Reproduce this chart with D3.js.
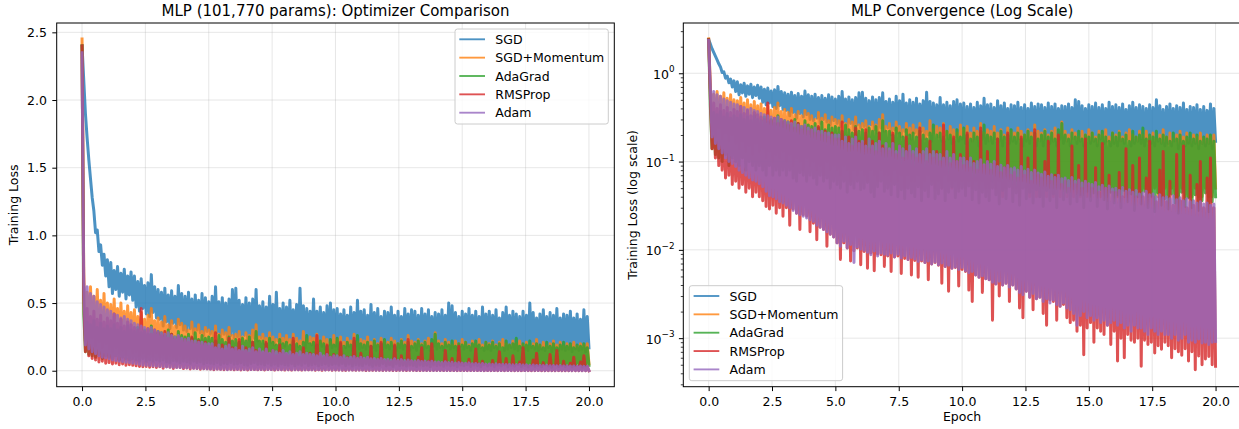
<!DOCTYPE html>
<html>
<head>
<meta charset="utf-8">
<script src="https://cdn.jsdelivr.net/npm/d3@7"></script>
<style>
    body { margin: 0; background: #fff; }
    text { font-family: "DejaVu Sans", sans-serif; fill: #000; }
</style>
</head>
<body>
<div id="chart-area"></div>
<script>
// optimizers, in drawing order
var optimizers = ["SGD", "SGD+Momentum", "AdaGrad", "RMSProp", "Adam"];
var colours = ["#1f77b4", "#ff7f0e", "#2ca02c", "#d62728", "#9467bd"];

// tick labels
var epochTicks = [0, 2.5, 5, 7.5, 10, 12.5, 15, 17.5, 20];
var linearTicks = [0, 0.5, 1, 1.5, 2, 2.5];
var logTicks = [1e-3, 1e-2, 1e-1, 1];
var logTickExp = ["\u22123", "\u22122", "\u22121", "0"];
var nEpochs = 20;

// training loss, 15 readings per epoch
var lossSGD = [2.40,
    2.15, 1.90, 1.72, 1.56, 1.42, 1.28, 1.18, 1.02, 1.04, 0.88, 0.93, 0.78, 0.86, 0.70, 0.82,
    0.62, 0.80, 0.57, 0.74, 0.60, 0.77, 0.55, 0.72, 0.58, 0.75, 0.53, 0.70, 0.56, 0.73, 0.52,
    0.70, 0.47, 0.66, 0.44, 0.68, 0.46, 0.63, 0.42, 0.65, 0.40, 0.71, 0.43, 0.62, 0.39, 0.60,
    0.38, 0.58, 0.33, 0.61, 0.36, 0.56, 0.31, 0.59, 0.35, 0.55, 0.32, 0.63, 0.34, 0.57, 0.30,
    0.55, 0.29, 0.58, 0.31, 0.53, 0.27, 0.56, 0.30, 0.52, 0.28, 0.57, 0.26, 0.54, 0.29, 0.51,
    0.27, 0.55, 0.25, 0.62, 0.28, 0.51, 0.24, 0.54, 0.27, 0.50, 0.23, 0.53, 0.26, 0.60, 0.24,
    0.61, 0.25, 0.52, 0.22, 0.49, 0.26, 0.54, 0.23, 0.50, 0.21, 0.53, 0.24, 0.60, 0.22, 0.48,
    0.24, 0.51, 0.20, 0.47, 0.23, 0.55, 0.21, 0.49, 0.19, 0.58, 0.22, 0.46, 0.20, 0.50, 0.18,
    0.47, 0.21, 0.52, 0.19, 0.45, 0.22, 0.49, 0.18, 0.61, 0.20, 0.48, 0.17, 0.46, 0.21, 0.44,
    0.19, 0.53, 0.17, 0.44, 0.20, 0.47, 0.18, 0.43, 0.16, 0.48, 0.19, 0.50, 0.17, 0.45, 0.18,
    0.46, 0.16, 0.42, 0.19, 0.45, 0.17, 0.41, 0.18, 0.47, 0.15, 0.43, 0.18, 0.52, 0.16, 0.44,
    0.17, 0.45, 0.16, 0.41, 0.18, 0.49, 0.17, 0.43, 0.15, 0.46, 0.18, 0.40, 0.16, 0.44, 0.17,
    0.43, 0.16, 0.47, 0.18, 0.41, 0.15, 0.44, 0.17, 0.40, 0.16, 0.46, 0.18, 0.42, 0.15, 0.45,
    0.17, 0.44, 0.15, 0.41, 0.18, 0.46, 0.16, 0.42, 0.17, 0.45, 0.15, 0.40, 0.18, 0.43, 0.16,
    0.42, 0.17, 0.45, 0.15, 0.41, 0.18, 0.50, 0.16, 0.48, 0.17, 0.43, 0.15, 0.40, 0.18, 0.44,
    0.16, 0.42, 0.17, 0.46, 0.15, 0.41, 0.18, 0.44, 0.16, 0.40, 0.17, 0.47, 0.15, 0.42, 0.16,
    0.44, 0.15, 0.41, 0.17, 0.45, 0.16, 0.39, 0.18, 0.43, 0.15, 0.47, 0.16, 0.41, 0.17, 0.44,
    0.16, 0.42, 0.15, 0.40, 0.17, 0.44, 0.16, 0.41, 0.15, 0.50, 0.17, 0.43, 0.16, 0.39, 0.15,
    0.42, 0.16, 0.45, 0.15, 0.40, 0.17, 0.43, 0.14, 0.41, 0.16, 0.46, 0.15, 0.39, 0.16, 0.42,
    0.15, 0.41, 0.16, 0.44, 0.14, 0.39, 0.16, 0.42, 0.15, 0.38, 0.16, 0.45, 0.14, 0.40, 0.17];

var lossMomentum = [2.45,
    0.72, 0.22, 0.58, 0.19, 0.62, 0.24, 0.55, 0.18, 0.60, 0.21, 0.52, 0.17, 0.57, 0.20, 0.50,
    0.16, 0.49, 0.14, 0.53, 0.17, 0.46, 0.13, 0.50, 0.15, 0.44, 0.12, 0.48, 0.16, 0.43, 0.13,
    0.45, 0.14, 0.40, 0.11, 0.43, 0.13, 0.38, 0.10, 0.41, 0.12, 0.46, 0.11, 0.37, 0.13, 0.39,
    0.10, 0.36, 0.12, 0.40, 0.09, 0.34, 0.11, 0.37, 0.10, 0.33, 0.08, 0.38, 0.11, 0.35, 0.09,
    0.33, 0.10, 0.30, 0.08, 0.36, 0.09, 0.31, 0.07, 0.34, 0.10, 0.29, 0.08, 0.32, 0.09, 0.30,
    0.08, 0.29, 0.07, 0.33, 0.09, 0.27, 0.08, 0.30, 0.06, 0.28, 0.08, 0.32, 0.07, 0.26, 0.08,
    0.27, 0.07, 0.29, 0.06, 0.25, 0.08, 0.28, 0.07, 0.26, 0.06, 0.30, 0.08, 0.34, 0.07, 0.25,
    0.07, 0.27, 0.06, 0.24, 0.08, 0.28, 0.06, 0.25, 0.07, 0.23, 0.05, 0.27, 0.07, 0.24, 0.06,
    0.26, 0.06, 0.23, 0.07, 0.27, 0.05, 0.24, 0.06, 0.22, 0.07, 0.29, 0.06, 0.23, 0.05, 0.25,
    0.06, 0.24, 0.05, 0.27, 0.07, 0.22, 0.06, 0.25, 0.05, 0.23, 0.06, 0.21, 0.05, 0.26, 0.06,
    0.23, 0.05, 0.25, 0.06, 0.21, 0.05, 0.24, 0.06, 0.22, 0.05, 0.27, 0.06, 0.21, 0.05, 0.23,
    0.05, 0.22, 0.06, 0.25, 0.05, 0.21, 0.06, 0.23, 0.04, 0.20, 0.05, 0.24, 0.06, 0.22, 0.05,
    0.21, 0.05, 0.24, 0.04, 0.22, 0.06, 0.20, 0.05, 0.23, 0.04, 0.21, 0.05, 0.26, 0.04, 0.22,
    0.04, 0.21, 0.05, 0.23, 0.04, 0.20, 0.05, 0.22, 0.04, 0.24, 0.05, 0.20, 0.04, 0.28, 0.05,
    0.22, 0.04, 0.20, 0.05, 0.23, 0.04, 0.21, 0.05, 0.19, 0.04, 0.22, 0.05, 0.20, 0.04, 0.23,
    0.04, 0.21, 0.05, 0.19, 0.04, 0.22, 0.04, 0.20, 0.05, 0.23, 0.04, 0.19, 0.05, 0.21, 0.04,
    0.20, 0.04, 0.22, 0.05, 0.19, 0.04, 0.21, 0.04, 0.23, 0.05, 0.20, 0.04, 0.19, 0.05, 0.22,
    0.04, 0.20, 0.05, 0.22, 0.04, 0.19, 0.04, 0.21, 0.05, 0.18, 0.04, 0.20, 0.04, 0.23, 0.05,
    0.19, 0.04, 0.21, 0.05, 0.18, 0.04, 0.20, 0.04, 0.22, 0.05, 0.19, 0.04, 0.21, 0.04, 0.18,
    0.04, 0.20, 0.05, 0.19, 0.04, 0.21, 0.04, 0.18, 0.05, 0.20, 0.04, 0.19, 0.04, 0.20, 0.05];

var lossAdaGrad = [2.40,
    0.42, 0.14, 0.36, 0.12, 0.34, 0.11, 0.37, 0.10, 0.32, 0.12, 0.35, 0.09, 0.31, 0.11, 0.33,
    0.10, 0.31, 0.09, 0.34, 0.11, 0.30, 0.08, 0.32, 0.10, 0.29, 0.09, 0.33, 0.08, 0.30, 0.09,
    0.29, 0.08, 0.32, 0.07, 0.28, 0.09, 0.30, 0.07, 0.27, 0.08, 0.33, 0.07, 0.28, 0.08, 0.29,
    0.07, 0.28, 0.08, 0.26, 0.065, 0.30, 0.06, 0.27, 0.075, 0.25, 0.07, 0.29, 0.06, 0.26, 0.07,
    0.25, 0.065, 0.27, 0.055, 0.24, 0.07, 0.28, 0.06, 0.23, 0.065, 0.26, 0.05, 0.24, 0.06, 0.25,
    0.055, 0.24, 0.05, 0.22, 0.06, 0.26, 0.045, 0.23, 0.055, 0.21, 0.05, 0.25, 0.06, 0.22, 0.048,
    0.23, 0.05, 0.21, 0.058, 0.24, 0.045, 0.22, 0.04, 0.25, 0.052, 0.21, 0.06, 0.29, 0.046, 0.22,
    0.05, 0.22, 0.042, 0.20, 0.055, 0.24, 0.04, 0.21, 0.048, 0.19, 0.038, 0.23, 0.05, 0.20, 0.044,
    0.21, 0.04, 0.19, 0.052, 0.22, 0.036, 0.20, 0.047, 0.18, 0.04, 0.21, 0.055, 0.26, 0.038, 0.20,
    0.043, 0.21, 0.05, 0.19, 0.036, 0.22, 0.045, 0.20, 0.052, 0.18, 0.039, 0.23, 0.046, 0.19, 0.05,
    0.24, 0.041, 0.20, 0.053, 0.18, 0.037, 0.21, 0.048, 0.19, 0.034, 0.22, 0.045, 0.26, 0.04, 0.20,
    0.036, 0.19, 0.05, 0.21, 0.042, 0.18, 0.033, 0.22, 0.047, 0.19, 0.038, 0.20, 0.052, 0.23, 0.035,
    0.19, 0.044, 0.21, 0.032, 0.18, 0.05, 0.20, 0.038, 0.22, 0.045, 0.19, 0.034, 0.21, 0.048, 0.18,
    0.04, 0.20, 0.031, 0.22, 0.047, 0.19, 0.036, 0.21, 0.043, 0.18, 0.03, 0.23, 0.05, 0.27, 0.037,
    0.20, 0.045, 0.18, 0.033, 0.21, 0.049, 0.19, 0.035, 0.22, 0.042, 0.18, 0.03, 0.20, 0.046, 0.19,
    0.036, 0.21, 0.044, 0.18, 0.031, 0.20, 0.048, 0.22, 0.037, 0.19, 0.029, 0.17, 0.045, 0.21, 0.034,
    0.19, 0.042, 0.21, 0.03, 0.18, 0.047, 0.20, 0.035, 0.17, 0.043, 0.22, 0.028, 0.19, 0.04, 0.20,
    0.033, 0.24, 0.046, 0.18, 0.03, 0.20, 0.041, 0.19, 0.027, 0.22, 0.044, 0.18, 0.032, 0.20, 0.038,
    0.19, 0.029, 0.17, 0.043, 0.21, 0.034, 0.18, 0.026, 0.20, 0.045, 0.17, 0.031, 0.19, 0.039, 0.21,
    0.03, 0.18, 0.042, 0.20, 0.028, 0.17, 0.036, 0.19, 0.044, 0.18, 0.027, 0.20, 0.035, 0.17, 0.04];

var lossRMSProp = [2.40,
    0.55, 0.14, 0.46, 0.11, 0.40, 0.09, 0.44, 0.08, 0.38, 0.065, 0.41, 0.07, 0.36, 0.055, 0.39,
    0.06, 0.37, 0.05, 0.42, 0.055, 0.35, 0.045, 0.38, 0.05, 0.33, 0.04, 0.36, 0.045, 0.34, 0.04,
    0.32, 0.036, 0.30, 0.031, 0.46, 0.029, 0.29, 0.032, 0.31, 0.026, 0.27, 0.03, 0.30, 0.024, 0.28,
    0.03, 0.26, 0.019, 0.29, 0.029, 0.24, 0.026, 0.27, 0.017, 0.23, 0.025, 0.25, 0.024, 0.22, 0.016,
    0.23, 0.02, 0.21, 0.013, 0.25, 0.018, 0.20, 0.017, 0.22, 0.011, 0.19, 0.015, 0.21, 0.014, 0.18,
    0.012, 0.18, 0.0078, 0.28, 0.012, 0.16, 0.0105, 0.19, 0.0075, 0.15, 0.0098, 0.24, 0.0105, 0.17, 0.0068,
    0.16, 0.0096, 0.23, 0.0062, 0.14, 0.0092, 0.17, 0.0058, 0.13, 0.009, 0.21, 0.0088, 0.15, 0.0065, 0.14,
    0.0085, 0.13, 0.0057, 0.21, 0.0083, 0.12, 0.0085, 0.15, 0.0054, 0.11, 0.008, 0.19, 0.0078, 0.13, 0.0052,
    0.12, 0.0076, 0.11, 0.0049, 0.24, 0.0075, 0.12, 0.0072, 0.10, 0.0046, 0.17, 0.0069, 0.11, 0.0072, 0.13,
    0.0067, 0.10, 0.0042, 0.26, 0.0065, 0.11, 0.0034, 0.095, 0.0062, 0.19, 0.0063, 0.10, 0.0039, 0.12, 0.006,
    0.09, 0.0057, 0.21, 0.0035, 0.085, 0.0026, 0.10, 0.0052, 0.08, 0.0049, 0.24, 0.0033, 0.09, 0.0047, 0.13,
    0.0046, 0.08, 0.0016, 0.095, 0.0041, 0.18, 0.003, 0.075, 0.004, 0.085, 0.0042, 0.21, 0.0026, 0.07, 0.004,
    0.075, 0.0036, 0.065, 0.0022, 0.19, 0.0017, 0.07, 0.0034, 0.11, 0.0029, 0.06, 0.0021, 0.23, 0.0028, 0.07,
    0.0029, 0.065, 0.0019, 0.10, 0.0014, 0.17, 0.0027, 0.06, 0.0026, 0.07, 0.0016, 0.20, 0.0023, 0.055, 0.0024,
    0.06, 0.0017, 0.05, 0.0015, 0.15, 0.0016, 0.055, 0.0012, 0.09, 0.0014, 0.05, 0.00065, 0.18, 0.0013, 0.055,
    0.0015, 0.05, 0.0009, 0.085, 0.0013, 0.045, 0.0012, 0.16, 0.0011, 0.05, 0.0014, 0.07, 0.00085, 0.045, 0.0012,
    0.045, 0.00055, 0.075, 0.001, 0.04, 0.0006, 0.14, 0.0011, 0.045, 0.00095, 0.09, 0.0009, 0.04, 0.001, 0.11,
    0.00048, 0.04, 0.00095, 0.065, 0.00085, 0.17, 0.0009, 0.04, 0.00068, 0.035, 0.00082, 0.08, 0.00075, 0.13, 0.0009,
    0.035, 0.00082, 0.06, 0.0006, 0.032, 0.00076, 0.12, 0.0007, 0.036, 0.00064, 0.15, 0.00076, 0.03, 0.00055, 0.07,
    0.0007, 0.032, 0.00044, 0.055, 0.00063, 0.10, 0.0005, 0.03, 0.00058, 0.065, 0.00062, 0.11, 0.0005, 0.03, 0.00048];

var lossAdam = [2.35,
    0.68, 0.19, 0.62, 0.16, 0.57, 0.14, 0.55, 0.125, 0.51, 0.11, 0.49, 0.10, 0.47, 0.095, 0.45,
    0.088, 0.44, 0.08, 0.42, 0.075, 0.41, 0.07, 0.39, 0.066, 0.40, 0.062, 0.38, 0.06, 0.37, 0.056,
    0.35, 0.052, 0.34, 0.046, 0.33, 0.041, 0.32, 0.04, 0.31, 0.038, 0.32, 0.035, 0.30, 0.034, 0.29,
    0.032, 0.28, 0.03, 0.27, 0.028, 0.28, 0.026, 0.26, 0.025, 0.25, 0.024, 0.26, 0.023, 0.24, 0.022,
    0.23, 0.021, 0.24, 0.019, 0.22, 0.018, 0.22, 0.017, 0.21, 0.016, 0.21, 0.015, 0.20, 0.014, 0.20,
    0.012, 0.20, 0.011, 0.17, 0.0125, 0.19, 0.0105, 0.16, 0.0115, 0.18, 0.0072, 0.19, 0.0108, 0.16, 0.0102,
    0.17, 0.0099, 0.15, 0.0094, 0.18, 0.0088, 0.15, 0.0097, 0.16, 0.0085, 0.17, 0.0092, 0.14, 0.0089, 0.16,
    0.0087, 0.14, 0.0092, 0.16, 0.0083, 0.13, 0.0089, 0.15, 0.0081, 0.14, 0.0086, 0.13, 0.0078, 0.15, 0.0082,
    0.13, 0.0079, 0.14, 0.0074, 0.12, 0.0077, 0.13, 0.0072, 0.14, 0.0075, 0.12, 0.0069, 0.13, 0.0073, 0.12,
    0.0068, 0.12, 0.0071, 0.11, 0.0065, 0.13, 0.0067, 0.11, 0.0062, 0.12, 0.0064, 0.10, 0.006, 0.11, 0.0063,
    0.11, 0.0058, 0.10, 0.0055, 0.11, 0.0057, 0.095, 0.0052, 0.10, 0.0049, 0.105, 0.0051, 0.092, 0.0047, 0.10,
    0.0046, 0.093, 0.0043, 0.10, 0.0041, 0.088, 0.0044, 0.091, 0.004, 0.085, 0.0042, 0.09, 0.0038, 0.083, 0.004,
    0.085, 0.0036, 0.08, 0.0033, 0.088, 0.0031, 0.078, 0.0034, 0.082, 0.0029, 0.075, 0.0032, 0.08, 0.0028, 0.074,
    0.0029, 0.072, 0.0026, 0.076, 0.0028, 0.068, 0.0025, 0.071, 0.0027, 0.066, 0.0024, 0.07, 0.0023, 0.064, 0.0025,
    0.065, 0.0022, 0.061, 0.0021, 0.066, 0.0019, 0.06, 0.0014, 0.062, 0.0018, 0.057, 0.002, 0.06, 0.0017, 0.056,
    0.0018, 0.055, 0.0016, 0.058, 0.0017, 0.052, 0.0015, 0.054, 0.0016, 0.05, 0.0014, 0.053, 0.0015, 0.049, 0.0016,
    0.05, 0.0014, 0.047, 0.0015, 0.051, 0.0013, 0.046, 0.0014, 0.048, 0.0012, 0.045, 0.0014, 0.047, 0.0013, 0.043,
    0.0013, 0.044, 0.0012, 0.046, 0.0011, 0.042, 0.0013, 0.043, 0.0012, 0.04, 0.0011, 0.042, 0.0012, 0.039, 0.0011,
    0.04, 0.0011, 0.038, 0.001, 0.041, 0.0011, 0.037, 0.00095, 0.039, 0.001, 0.036, 0.0011, 0.038, 0.0009, 0.035,
    0.00095, 0.036, 0.0009, 0.034, 0.00098, 0.035, 0.00088, 0.033, 0.0009, 0.034, 0.00085, 0.032, 0.0009, 0.033, 0.00092];

var lossSeries = [lossSGD, lossMomentum, lossAdaGrad, lossRMSProp, lossAdam];

// Object Constructor
LossChart = function(_svg, _id, _left, _yType, _title, _yLabel, _yLabelX, _legendCorner) {
    this.svg = _svg;
    this.id = _id;
    this.left = _left;
    this.yType = _yType;
    this.title = _title;
    this.yLabel = _yLabel;
    this.yLabelX = _yLabelX;
    this.legendCorner = _legendCorner;

    this.initVis();
};

LossChart.prototype.initVis = function() {
    var vis = this;

    vis.top = 23;
    vis.width = 557.6;
    vis.height = 363.7;

    vis.g = vis.svg.append("g")
        .attr("transform", "translate(" + vis.left + "," + vis.top + ")");

    vis.x = d3.scaleLinear().domain([-1, 21]).range([0, vis.width]);
    if (vis.yType == "log") {
        vis.y = d3.scaleLog().domain([2.82e-4, 3.71]).range([vis.height, 0]);
        vis.yTicks = logTicks;
    } else {
        vis.y = d3.scaleLinear().domain([-0.118, 2.569]).range([vis.height, 0]);
        vis.yTicks = linearTicks;
    }

    vis.g.append("clipPath").attr("id", "clip-" + vis.id)
        .append("rect").attr("width", vis.width).attr("height", vis.height);

    // grid
    var grid = vis.g.append("g")
        .attr("stroke", "#b0b0b0").attr("stroke-opacity", 0.3).attr("stroke-width", 1);
    grid.selectAll(".vgrid").data(epochTicks).enter().append("line")
        .attr("x1", function(d) { return vis.x(d); }).attr("x2", function(d) { return vis.x(d); })
        .attr("y1", 0).attr("y2", vis.height);
    grid.selectAll(".hgrid").data(vis.yTicks).enter().append("line")
        .attr("y1", function(d) { return vis.y(d); }).attr("y2", function(d) { return vis.y(d); })
        .attr("x1", 0).attr("x2", vis.width);

    vis.updateVis();
};

LossChart.prototype.updateVis = function() {
    var vis = this;

    var line = d3.line()
        .x(function(d, i, arr) { return vis.x(i * nEpochs / (arr.length - 1)); })
        .y(function(d) { return vis.y(d); });

    // the readings are far denser than a pixel in the original, so the stroke
    // is widened a little to close the gaps between neighbouring zigzags
    vis.g.append("g").attr("clip-path", "url(#clip-" + vis.id + ")")
        .selectAll("path").data(lossSeries).enter().append("path")
        .attr("d", function(d) { return line(d); })
        .attr("fill", "none")
        .attr("stroke", function(d, i) { return colours[i]; })
        .attr("stroke-opacity", 0.8)
        .attr("stroke-width", 3)
        .attr("stroke-linejoin", "round")
        .attr("stroke-linecap", "square");

    // spines
    vis.g.append("rect")
        .attr("width", vis.width).attr("height", vis.height)
        .attr("fill", "none").attr("stroke", "#000").attr("stroke-width", 1);

    // x axis
    var xAxis = vis.g.append("g")
        .attr("transform", "translate(0," + vis.height + ")")
        .call(d3.axisBottom(vis.x).tickValues(epochTicks).tickSize(4.4).tickPadding(6.5)
            .tickFormat(d3.format(".1f")));
    xAxis.select(".domain").remove();
    xAxis.attr("font-family", "DejaVu Sans").attr("font-size", 12.5);

    // y axis
    if (vis.yType == "log") {
        var minors = [];
        [-4, -3, -2, -1, 0].forEach(function(k) {
            for (var m = 2; m < 10; m++) minors.push(m * Math.pow(10, k));
        });
        minors = minors.filter(function(v) { return v > 2.82e-4 && v < 3.71; });
        var minorAxis = vis.g.append("g")
            .call(d3.axisLeft(vis.y).tickValues(minors).tickSize(2.5).tickFormat(""));
        minorAxis.select(".domain").remove();
        minorAxis.selectAll("line").attr("stroke-width", 0.75);

        var yAxis = vis.g.append("g")
            .call(d3.axisLeft(vis.y).tickValues(logTicks).tickSize(4.4).tickFormat(""));
        yAxis.select(".domain").remove();

        var lab = vis.g.selectAll(".loglabel").data(logTicks).enter().append("text")
            .attr("x", -8.8)
            .attr("y", function(d) { return vis.y(d) + 5.5; })
            .attr("text-anchor", "end")
            .attr("font-size", 12.5);
        lab.append("tspan").text("10");
        lab.append("tspan").attr("dy", -6.5).attr("font-size", 8.8)
            .text(function(d, i) { return logTickExp[i]; });
    } else {
        var yAxisL = vis.g.append("g")
            .call(d3.axisLeft(vis.y).tickValues(linearTicks).tickSize(4.4).tickPadding(5.3)
                .tickFormat(d3.format(".1f")));
        yAxisL.select(".domain").remove();
        yAxisL.attr("font-family", "DejaVu Sans").attr("font-size", 12.5);
    }

    // labels
    vis.g.append("text")
        .attr("x", vis.width / 2).attr("y", -7.5)
        .attr("text-anchor", "middle").attr("font-size", 15)
        .text(vis.title);
    vis.g.append("text")
        .attr("x", vis.width / 2).attr("y", 398)
        .attr("text-anchor", "middle").attr("font-size", 12.5)
        .text("Epoch");
    vis.g.append("text")
        .attr("transform", "translate(" + vis.yLabelX + "," + (vis.height / 2) + ") rotate(-90)")
        .attr("text-anchor", "middle").attr("font-size", 12.5)
        .text(vis.yLabel);

    // legend
    var lw = 153.3, lh = 95;
    var lx = vis.legendCorner == "upper right" ? vis.width - 6 - lw : 6;
    var ly = vis.legendCorner == "upper right" ? 6 : vis.height - 6 - lh;
    var legend = vis.g.append("g").attr("transform", "translate(" + lx + "," + ly + ")");
    legend.append("rect")
        .attr("width", lw).attr("height", lh).attr("rx", 2.5)
        .attr("fill", "#fff").attr("fill-opacity", 0.8)
        .attr("stroke", "#cccccc").attr("stroke-width", 1);
    var rows = legend.selectAll(".row").data(optimizers).enter().append("g")
        .attr("transform", function(d, i) { return "translate(0," + (10.3 + i * 18.35) + ")"; });
    rows.append("line")
        .attr("x1", 4.3).attr("x2", 30)
        .attr("stroke", function(d, i) { return colours[i]; })
        .attr("stroke-opacity", 0.8).attr("stroke-width", 1.875);
    rows.append("text")
        .attr("x", 40.3).attr("y", 4.6).attr("font-size", 12.5)
        .text(function(d) { return d; });
};

var svg = d3.select("#chart-area").append("svg")
    .attr("width", 1239).attr("height", 429);

new LossChart(svg, "lin", 56.7, "linear", "MLP (101,770 params): Optimizer Comparison",
    "Training Loss", -39.2, "upper right");
new LossChart(svg, "log", 683.3, "log", "MLP Convergence (Log Scale)",
    "Training Loss (log scale)", -46.3, "lower left");
</script>
</body>
</html>
